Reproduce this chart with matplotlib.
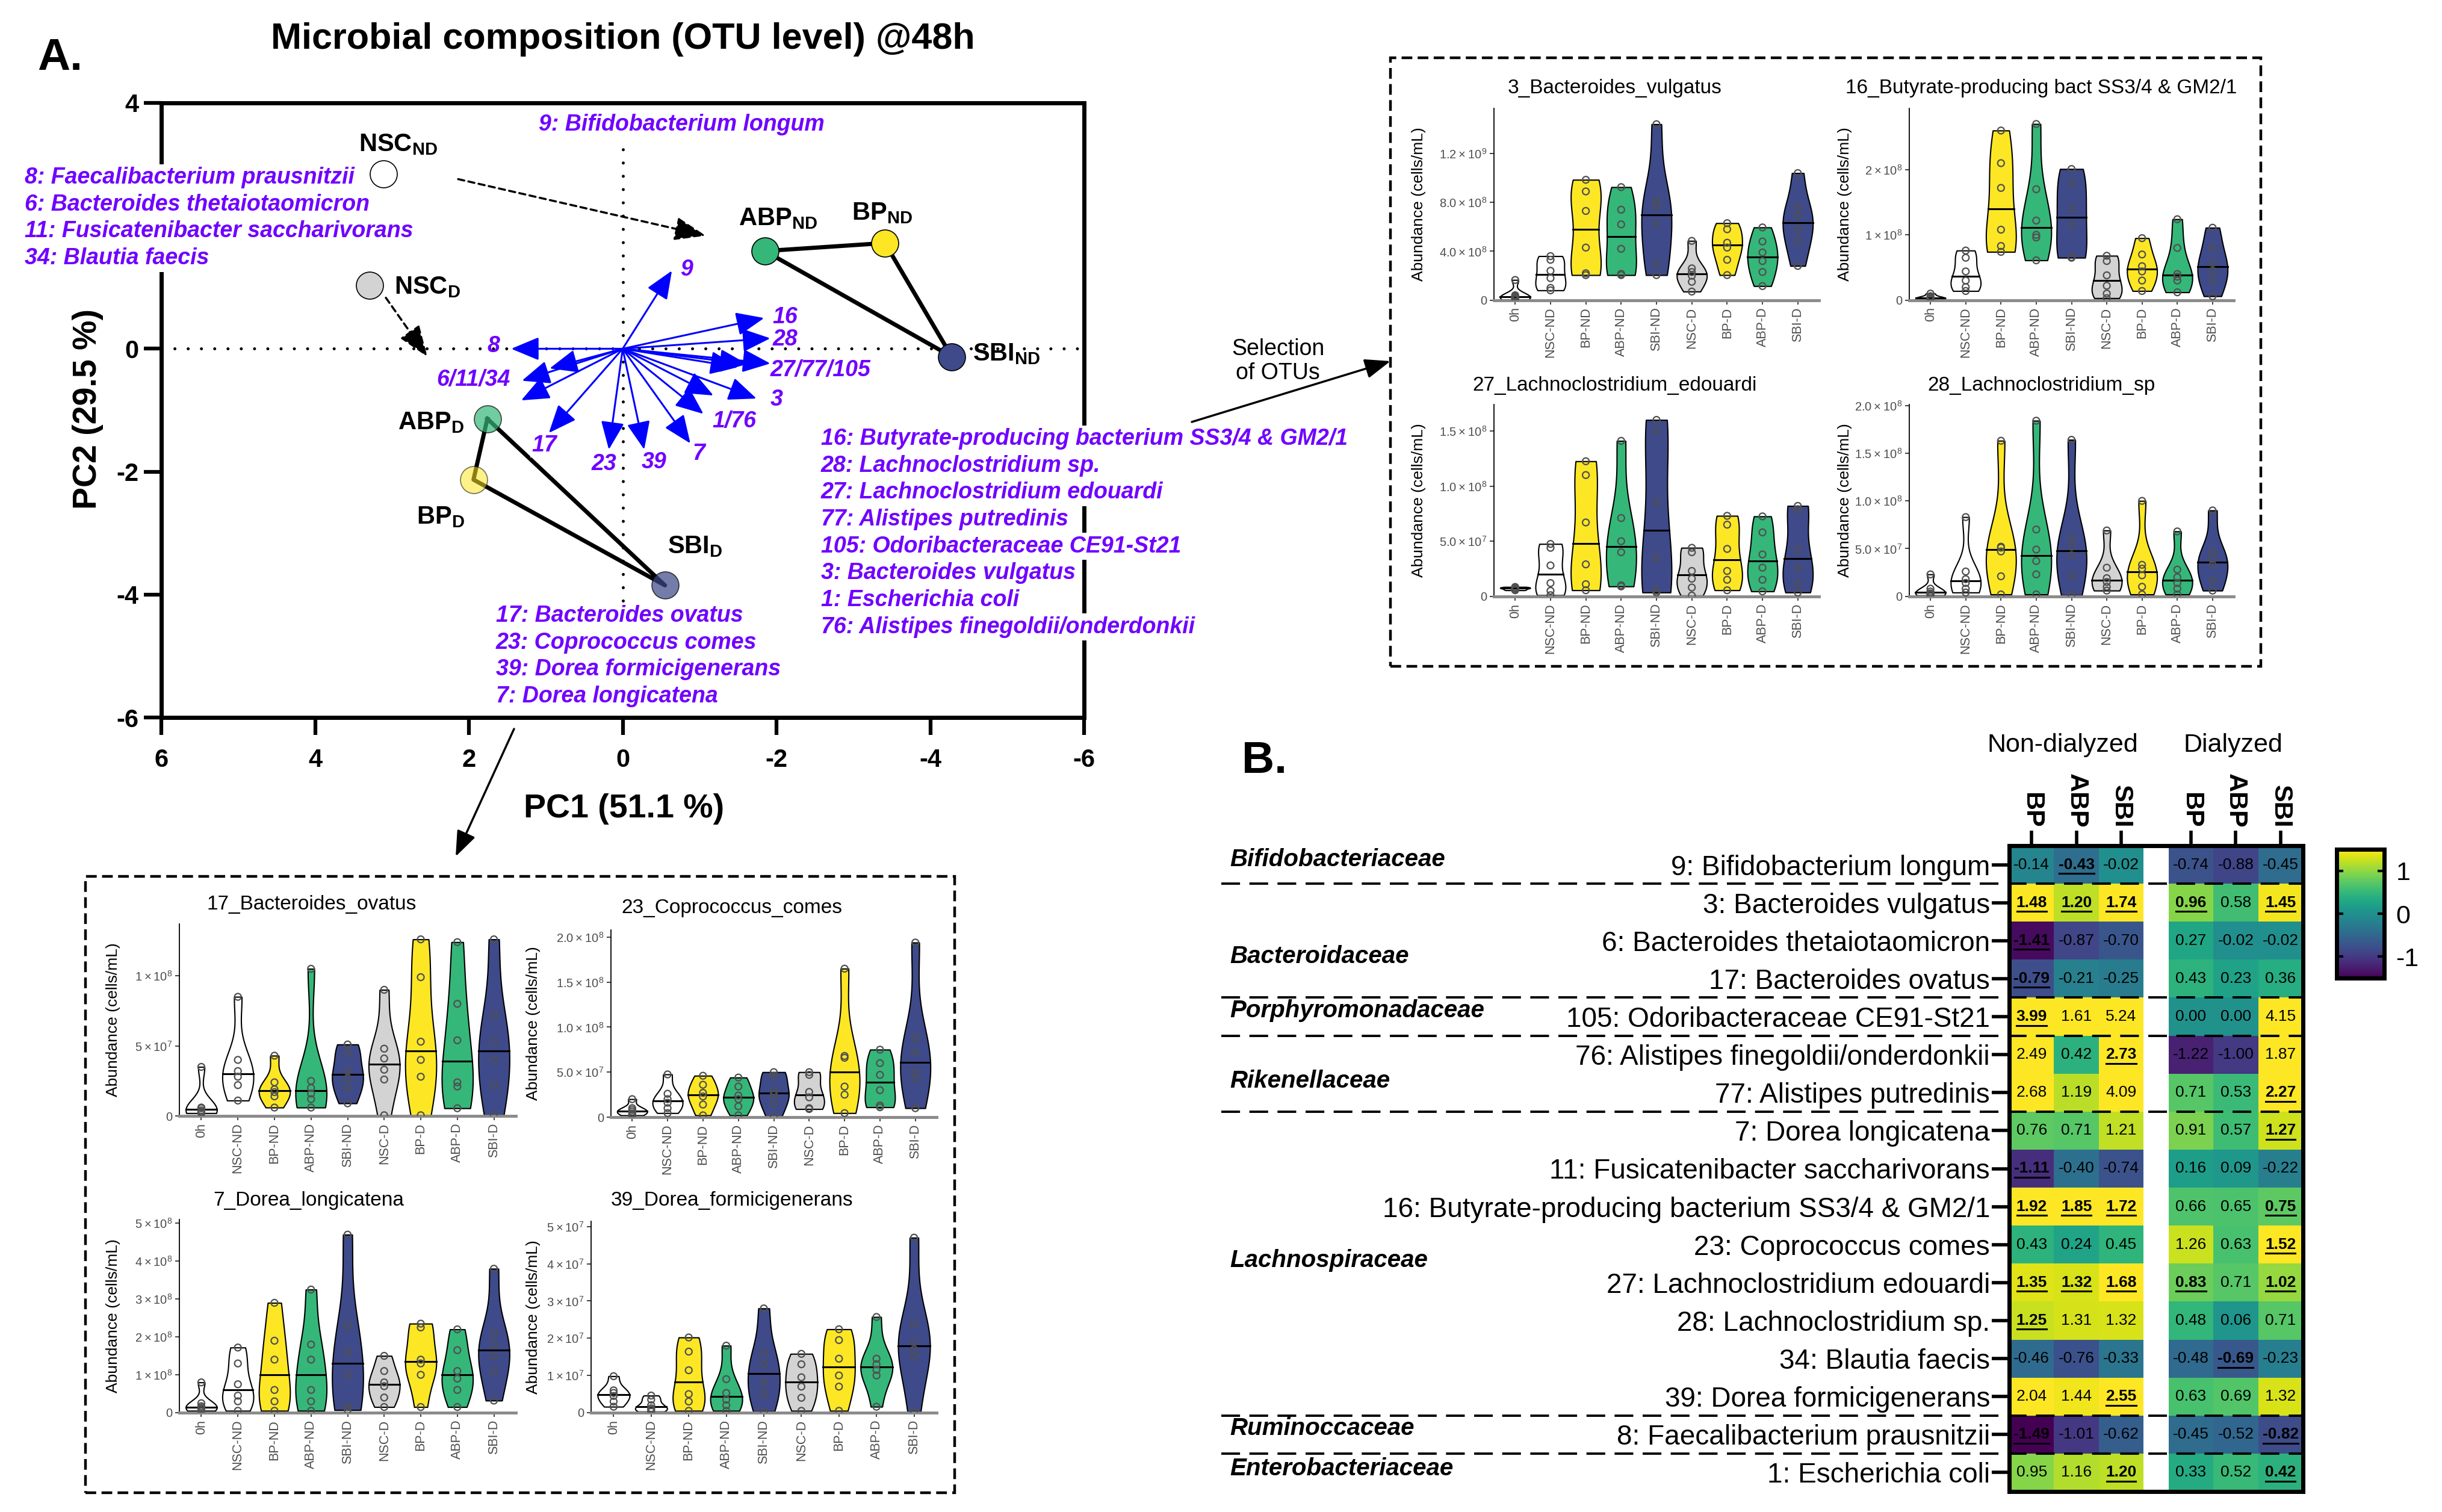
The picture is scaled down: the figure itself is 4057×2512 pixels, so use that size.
import numpy as np
import matplotlib
import matplotlib.pyplot as plt
from matplotlib.patches import FancyArrowPatch, Rectangle
from matplotlib.transforms import blended_transform_factory
from matplotlib.textpath import TextPath
from matplotlib.font_manager import FontProperties
from matplotlib import font_manager

W, H = 4057, 2512
plt.rcParams['font.family'] = ['Liberation Sans', 'DejaVu Sans']
plt.rcParams['mathtext.default'] = 'regular'
plt.rcParams['axes.unicode_minus'] = False

PURPLE = '#7000ff'
YEL, GRN, NAV = '#fde725', '#35b779', '#3e4a89'

# ---------------- data: PCA ----------------
samples = ['NSC$_{ND}$', 'ABP$_{ND}$', 'BP$_{ND}$', 'SBI$_{ND}$',
           'NSC$_{D}$', 'ABP$_{D}$', 'BP$_{D}$', 'SBI$_{D}$']
pc1 = [3.11, -1.85, -3.41, -4.28, 3.29, 1.76, 1.94, -0.55]
pc2 = [2.84, 1.59, 1.72, -0.13, 1.03, -1.14, -2.13, -3.85]
s_colors = ['white', GRN, YEL, NAV, '#d3d3d3', GRN, YEL, NAV]
s_alpha = [1, 1, 1, 1, 1, 0.7, 0.55, 0.72]
label_xy = [(3.43, 3.22), (-1.51, 2.01), (-2.98, 2.10), (-4.55, -0.19),
            (2.97, 0.89), (2.92, -1.31), (2.68, -2.85), (-0.58, -3.33)]

otu_ids = ['9', '16', '28', '27', '77', '105', '3', '1', '76', '7', '39', '23', '17', '6', '11', '34', '8']
load_x = [-0.64, -1.84, -1.92, -1.50, -1.62, -1.92, -1.74, -1.18, -1.05, -0.88, -0.28, 0.18, 0.96, 1.32, 1.31, 0.95, 1.45]
load_y = [1.27, 0.50, 0.17, -0.30, -0.25, -0.24, -0.81, -0.76, -1.06, -1.54, -1.64, -1.64, -1.37, -0.84, -0.52, -0.32, 0.0]
arrow_labels = ['9', '16', '28', '27/77/105', '3', '1/76', '7', '39', '23', '17', '6/11/34', '8']
arrow_label_xy = [(-0.83, 1.29), (-2.11, 0.51), (-2.11, 0.15), (-2.57, -0.35), (-2.0, -0.83),
                  (-1.45, -1.18), (-0.99, -1.71), (-0.41, -1.85), (0.24, -1.88), (1.02, -1.57),
                  (1.94, -0.51), (1.68, 0.04)]

top_list = ['9: Bifidobacterium longum']
left_list = ['8: Faecalibacterium prausnitzii', '6: Bacteroides thetaiotaomicron',
             '11: Fusicatenibacter saccharivorans', '34: Blautia faecis']
right_list = ['16: Butyrate-producing bacterium SS3/4 & GM2/1', '28: Lachnoclostridium sp.',
              '27: Lachnoclostridium edouardi', '77: Alistipes putredinis',
              '105: Odoribacteraceae CE91-St21', '3: Bacteroides vulgatus',
              '1: Escherichia coli', '76: Alistipes finegoldii/onderdonkii']
bottom_list = ['17: Bacteroides ovatus', '23: Coprococcus comes',
               '39: Dorea formicigenerans', '7: Dorea longicatena']

# ---------------- data: violins ----------------
groups = ['0h', 'NSC-ND', 'BP-ND', 'ABP-ND', 'SBI-ND', 'NSC-D', 'BP-D', 'ABP-D', 'SBI-D']
g_colors = ['white', 'white', YEL, GRN, NAV, '#d3d3d3', YEL, GRN, NAV]

b_vulgatus = [[0.05, 0.15, 0.25, 0.3, 0.4, 1.65], [0.8, 1.0, 1.8, 2.4, 3.3, 3.6],
              [2.05, 2.2, 4.3, 7.3, 8.9, 9.85], [2.05, 2.15, 4.2, 6.2, 7.4, 9.25],
              [2.05, 3.0, 6.3, 7.7, 8.1, 14.4], [0.7, 1.5, 2.0, 2.3, 2.6, 4.85],
              [2.05, 3.3, 4.3, 4.7, 5.8, 6.3], [1.15, 2.3, 3.2, 3.9, 4.8, 5.95],
              [2.8, 4.8, 5.8, 6.9, 7.6, 10.4]]  # x1e8
butyrate = [[0.01, 0.02, 0.03, 0.04, 0.06, 0.1], [0.14, 0.2, 0.3, 0.44, 0.65, 0.76],
            [0.74, 0.83, 1.08, 1.72, 2.1, 2.6], [0.61, 0.96, 1.0, 1.22, 1.7, 2.7],
            [0.65, 0.66, 1.14, 1.4, 1.8, 2.01], [0.03, 0.1, 0.22, 0.38, 0.6, 0.68],
            [0.14, 0.3, 0.44, 0.52, 0.7, 0.95], [0.12, 0.3, 0.36, 0.4, 0.8, 1.24],
            [0.06, 0.3, 0.45, 0.57, 0.8, 1.11]]  # x1e8
l_edouardi = [[0.55, 0.6, 0.7, 0.75, 0.8, 0.85], [0.1, 0.5, 1.2, 2.8, 4.4, 4.75],
              [0.55, 1.1, 2.9, 6.7, 11.0, 12.25], [0.9, 1.0, 4.0, 5.0, 7.1, 14.1],
              [0.35, 0.5, 3.5, 8.5, 15.0, 16.0], [0.07, 0.8, 1.6, 2.3, 4.0, 4.4],
              [0.55, 1.5, 2.3, 4.3, 6.5, 7.3], [0.45, 1.5, 2.6, 3.8, 5.8, 7.25],
              [0.35, 1.2, 2.6, 4.2, 7.9, 8.2]]  # x1e7
l_sp = [[0.1, 0.2, 0.3, 0.5, 0.8, 2.3], [0.4, 0.8, 1.4, 1.8, 2.6, 8.3],
        [0.2, 2.1, 4.7, 5.1, 5.2, 16.3], [0.2, 2.3, 3.7, 4.9, 7.0, 18.4],
        [0.1, 2.1, 4.3, 5.2, 6.1, 16.4], [0.6, 1.0, 1.5, 1.9, 3.0, 6.9],
        [0.2, 1.0, 2.2, 2.9, 3.3, 10.0], [0.2, 0.8, 1.4, 2.0, 2.8, 6.8],
        [0.6, 1.7, 3.3, 3.9, 4.6, 9.0]]  # x1e7
b_ovatus = [[0.2, 0.3, 0.4, 0.55, 0.6, 3.5], [1.1, 2.2, 2.8, 3.2, 4.0, 8.5],
            [0.6, 1.4, 1.7, 1.9, 2.4, 4.3], [0.6, 1.2, 1.6, 2.0, 2.5, 10.5],
            [0.9, 2.0, 2.7, 3.2, 4.5, 5.1], [0.05, 2.6, 3.3, 4.1, 4.8, 9.0],
            [0.05, 2.8, 4.0, 5.3, 9.9, 12.6], [0.55, 2.1, 2.4, 5.4, 8.0, 12.4],
            [0.05, 2.2, 4.0, 5.3, 7.2, 12.6]]  # x1e7
c_comes = [[0.2, 0.4, 0.6, 0.8, 1.0, 2.0], [0.45, 1.0, 1.6, 2.0, 2.6, 4.75],
           [0.2, 1.4, 2.3, 2.7, 3.6, 4.6], [0.2, 1.2, 2.0, 2.4, 3.4, 4.4],
           [0.1, 1.5, 2.5, 2.9, 4.6, 5.0], [0.9, 1.0, 2.2, 2.8, 4.7, 5.0],
           [0.45, 2.5, 3.4, 6.6, 6.8, 16.5], [1.1, 1.3, 3.0, 4.7, 6.0, 7.5],
           [1.0, 4.3, 5.0, 7.2, 8.8, 19.4]]  # x1e7
d_longicatena = [[0.05, 0.1, 0.13, 0.17, 0.25, 0.8], [0.05, 0.3, 0.45, 0.75, 1.3, 1.72],
                 [0.05, 0.3, 0.6, 1.4, 1.9, 2.9], [0.05, 0.3, 0.6, 1.4, 1.8, 3.25],
                 [0.07, 0.15, 1.0, 1.6, 2.3, 4.7], [0.15, 0.4, 0.7, 0.8, 1.1, 1.5],
                 [0.15, 1.0, 1.3, 1.4, 2.25, 2.35], [0.15, 0.6, 0.9, 1.1, 1.65, 2.2],
                 [0.32, 1.1, 1.5, 1.8, 2.1, 3.8]]  # x1e8
d_formici = [[0.16, 0.3, 0.45, 0.53, 0.6, 0.98], [0.03, 0.08, 0.12, 0.2, 0.35, 0.46],
             [0.05, 0.3, 0.5, 1.14, 1.64, 2.02], [0.05, 0.2, 0.35, 0.53, 0.9, 1.8],
             [0.03, 0.5, 0.8, 1.3, 1.6, 2.8], [0.05, 0.4, 0.7, 0.95, 1.3, 1.58],
             [0.05, 0.7, 1.0, 1.45, 1.95, 2.24], [0.16, 1.0, 1.15, 1.3, 1.45, 2.57],
             [0.03, 1.5, 1.7, 1.9, 2.4, 4.7]]  # x1e7

# ---------------- data: heatmap ----------------
rows = ['9: Bifidobacterium longum', '3: Bacteroides vulgatus', '6: Bacteroides thetaiotaomicron',
        '17: Bacteroides ovatus', '105: Odoribacteraceae CE91-St21',
        '76: Alistipes finegoldii/onderdonkii', '77: Alistipes putredinis', '7: Dorea longicatena',
        '11: Fusicatenibacter saccharivorans', '16: Butyrate-producing bacterium SS3/4 & GM2/1',
        '23: Coprococcus comes', '27: Lachnoclostridium edouardi', '28: Lachnoclostridium sp.',
        '34: Blautia faecis', '39: Dorea formicigenerans', '8: Faecalibacterium prausnitzii',
        '1: Escherichia coli']
non_dial = [[-0.14, -0.43, -0.02], [1.48, 1.20, 1.74], [-1.41, -0.87, -0.70], [-0.79, -0.21, -0.25],
            [3.99, 1.61, 5.24], [2.49, 0.42, 2.73], [2.68, 1.19, 4.09], [0.76, 0.71, 1.21],
            [-1.11, -0.40, -0.74], [1.92, 1.85, 1.72], [0.43, 0.24, 0.45], [1.35, 1.32, 1.68],
            [1.25, 1.31, 1.32], [-0.46, -0.76, -0.33], [2.04, 1.44, 2.55], [-1.49, -1.01, -0.62],
            [0.95, 1.16, 1.20]]
dial = [[-0.74, -0.88, -0.45], [0.96, 0.58, 1.45], [0.27, -0.02, -0.02], [0.43, 0.23, 0.36],
        [0.00, 0.00, 4.15], [-1.22, -1.00, 1.87], [0.71, 0.53, 2.27], [0.91, 0.57, 1.27],
        [0.16, 0.09, -0.22], [0.66, 0.65, 0.75], [1.26, 0.63, 1.52], [0.83, 0.71, 1.02],
        [0.48, 0.06, 0.71], [-0.48, -0.69, -0.23], [0.63, 0.69, 1.32], [-0.45, -0.52, -0.82],
        [0.33, 0.52, 0.42]]
sig_nd = [[0, 1, 0], [1, 1, 1], [1, 0, 0], [1, 0, 0], [1, 0, 0], [0, 0, 1], [0, 0, 0], [0, 0, 0],
          [1, 0, 0], [1, 1, 1], [0, 0, 0], [1, 1, 1], [1, 0, 0], [0, 0, 0], [0, 0, 1], [1, 0, 0],
          [0, 0, 1]]
sig_d = [[0, 0, 0], [1, 0, 1], [0, 0, 0], [0, 0, 0], [0, 0, 0], [0, 0, 0], [0, 0, 1], [0, 0, 1],
         [0, 0, 0], [0, 0, 1], [0, 0, 1], [1, 0, 1], [0, 0, 0], [0, 1, 0], [0, 0, 0], [0, 0, 1],
         [0, 0, 1]]
families = ['Bifidobacteriaceae', 'Bacteroidaceae', 'Porphyromonadaceae', 'Rikenellaceae',
            'Lachnospiraceae', 'Ruminoccaceae', 'Enterobacteriaceae']
family_y = [0.36, 2.92, 4.34, 6.2, 10.92, 15.34, 16.4]
family_breaks = [1, 4, 5, 7, 15, 16]
col_names = ['BP', 'ABP', 'SBI']


fig = plt.figure(figsize=(W / 100, H / 100), dpi=100)


def box(l, t, r, b):
    return [l / W, 1 - b / H, (r - l) / W, (b - t) / H]


def ftext(x, y, s, **kw):
    return fig.text(x / W, 1 - y / H, s, **kw)


def fig_arrow(p0, p1, **kw):
    a = FancyArrowPatch((p0[0] / W, 1 - p0[1] / H), (p1[0] / W, 1 - p1[1] / H),
                        transform=fig.transFigure, shrinkA=0, shrinkB=0, **kw)
    fig.add_artist(a)


# ================= Panel A: PCA biplot =================
ax = fig.add_axes(box(268, 171, 1801, 1192))
ax.set_xlim(6, -6)
ax.set_ylim(-6, 4)
ax.axhline(0, color='black', lw=3.6, ls=(0, (0.01, 4.4)), dash_capstyle='round', zorder=1)
ax.plot([0, 0], [-4.1, 3.45], color='black', lw=3.6, ls=(0, (0.01, 4.4)),
        dash_capstyle='round', zorder=1)

for tri in ([1, 2, 3, 1], [5, 6, 7, 5]):
    ax.plot([pc1[i] for i in tri], [pc2[i] for i in tri], color='black', lw=5, zorder=2)
for i in range(len(samples)):
    ax.scatter(pc1[i], pc2[i], s=1050, color=s_colors[i], alpha=s_alpha[i],
               edgecolors='black', linewidths=1.2, zorder=3)
    ax.text(label_xy[i][0], label_xy[i][1], samples[i], fontsize=30, fontweight='bold',
            ha='left', va='baseline', zorder=5)

for xx, yy in zip(load_x, load_y):
    ax.annotate('', xy=(xx, yy), xytext=(0, 0),
                arrowprops=dict(arrowstyle='-|>,head_length=1.2,head_width=0.5', color='#0000ff',
                                lw=2.2, shrinkA=0, shrinkB=0, mutation_scale=24), zorder=4)
for lab, (xx, yy) in zip(arrow_labels, arrow_label_xy):
    kw = dict(boxstyle='square,pad=0.05', fc='white', ec='none') if lab == '17' else None
    ax.text(xx, yy, lab, color=PURPLE, fontsize=27, fontweight='bold', style='italic',
            ha='center', va='center', zorder=5, bbox=kw)

for (x0, y0), (x1, y1) in [((2.14, 2.76), (-1.08, 1.84)), ((3.08, 0.83), (2.54, -0.13))]:
    ax.annotate('', xy=(x1, y1), xytext=(x0, y0),
                arrowprops=dict(arrowstyle='-|>,head_length=1.6,head_width=0.6', color='black',
                                lw=2.5, ls=(0, (3, 2)), shrinkA=0, shrinkB=0, mutation_scale=20))

for s in ax.spines.values():
    s.set_linewidth(5)
ax.set_xticks([6, 4, 2, 0, -2, -4, -6])
ax.set_yticks([4, 0, -2, -4, -6])
ax.tick_params(length=21, width=4.5, labelsize=30)
ax.tick_params(axis='x', pad=16)
ax.tick_params(axis='y', pad=6)
for t in ax.get_xticklabels() + ax.get_yticklabels():
    t.set_fontweight('bold')
ftext(1037, 1344, 'PC1 (51.1 %)', fontsize=40, fontweight='bold', ha='center', va='center')
ftext(146, 679, 'PC2 (29.5 %)', fontsize=40, fontweight='bold', ha='center', va='center',
      rotation=90)

wbox = dict(boxstyle='square,pad=0.12', fc='white', ec='none')
ptxt = dict(color=PURPLE, fontsize=27, fontweight='bold', style='italic', ha='left',
            va='center', bbox=wbox, zorder=6)
ftext(895, 207, top_list[0], **ptxt)
for k, s in enumerate(left_list):
    ftext(41, 295 + 44.7 * k, s, **ptxt)
for k, s in enumerate(right_list):
    ftext(1364, 729 + 44.7 * k, s, **ptxt)
for k, s in enumerate(bottom_list):
    ftext(824, 1023 + 44.7 * k, s, **ptxt)

ftext(1035, 66, 'Microbial composition (OTU level) @48h', fontsize=44, fontweight='bold',
      ha='center', va='center')
ftext(62, 96, 'A.', fontsize=54, fontweight='bold', ha='left', va='center')
ftext(2063, 1264, 'B.', fontsize=54, fontweight='bold', ha='left', va='center')
ftext(2123, 600, 'Selection\nof OTUs', fontsize=27, ha='center', va='center', linespacing=1.15)

fig_arrow((1980, 701), (2310, 600), arrowstyle='-|>,head_length=1.3,head_width=0.5',
          mutation_scale=20, lw=2.5, color='black')
fig_arrow((854, 1211), (757, 1423), arrowstyle='-|>,head_length=1.3,head_width=0.5',
          mutation_scale=20, lw=2.5, color='black')

# dashed boxes around the violin panels
for (l, t, r, b) in [(2310, 96, 3756, 1107), (142, 1456, 1586, 2480)]:
    fig.add_artist(Rectangle((l / W, 1 - b / H), (r - l) / W, (b - t) / H, fill=False,
                             transform=fig.transFigure, lw=3.2, ls=(0, (4, 2)), ec='black'))


# ================= violin panels =================
def sci(v, dec):
    if v == 0:
        return '0'
    e = int(np.floor(np.log10(v) + 1e-9))
    m = v / 10 ** e
    return rf'${m:.{dec}f}\times10^{{{e}}}$'


def violin_panel(rect, title, title_xy, ylab_x, vals, unit, ymax, ticks, dec):
    l, t, r, b = rect
    a = fig.add_axes(box(l, t, r, b))
    data = [np.array(v) * unit for v in vals]
    pos = np.arange(1, len(groups) + 1)
    parts = a.violinplot(data, pos, widths=0.85, showextrema=False, bw_method=0.6)
    for p, body, c, d in zip(pos, parts['bodies'], g_colors, data):
        body.set_facecolor(c)
        body.set_edgecolor('black')
        body.set_linewidth(1.5)
        body.set_alpha(1)
        body.set_zorder(2)
        v = body.get_paths()[0].vertices
        rs = v[v[:, 0] > p]
        o = np.argsort(rs[:, 1])
        med = np.median(d)
        half = np.interp(med, rs[o, 1], rs[o, 0]) - p
        a.plot([p - half, p + half], [med, med], color='black', lw=2.2, zorder=3)
        a.scatter(np.full(len(d), p), d, s=64, facecolors='none', edgecolors='#505050',
                  linewidths=1.6, zorder=4)
    a.set_xlim(0.4, 9.6)
    a.set_ylim(0, ymax)
    a.spines[['top', 'right']].set_visible(False)
    a.spines['bottom'].set_color('#8a8a8a')
    a.spines['bottom'].set_linewidth(3.5)
    a.spines['left'].set_linewidth(1.3)
    a.set_xticks(pos, groups, rotation=90, fontsize=15.5, color='#4d4d4d')
    a.set_yticks(ticks, [sci(tk, dec) for tk in ticks], fontsize=14.5, color='#4d4d4d')
    a.tick_params(length=5, width=1.3, color='#333333')
    ftext(title_xy[0], title_xy[1], title, fontsize=24, ha='center', va='center')
    ftext(ylab_x, (t + b) / 2, 'Abundance (cells/mL)', fontsize=19, rotation=90,
          ha='center', va='center')
    return a


violin_panel((2482, 180, 3022, 498.6), '3_Bacteroides_vulgatus', (2683, 147), 2357,
             b_vulgatus, 1e8, 1.57e9, [0, 4e8, 8e8, 1.2e9], 1)
violin_panel((3172, 180, 3711, 498.6), '16_Butyrate-producing bact SS3/4 & GM2/1', (3391, 147),
             3065, butyrate, 1e8, 2.94e8, [0, 1e8, 2e8], 0)
violin_panel((2482, 672, 3022, 990.7), '27_Lachnoclostridium_edouardi', (2683, 641), 2357,
             l_edouardi, 1e7, 1.74e8, [0, 5e7, 1e8, 1.5e8], 1)
violin_panel((3172, 672, 3711, 990.7), '28_Lachnoclostridium_sp', (3391, 641), 3065,
             l_sp, 1e7, 2.01e8, [0, 5e7, 1e8, 1.5e8, 2e8], 1)
violin_panel((298, 1535, 857, 1854), '17_Bacteroides_ovatus', (518, 1503), 188,
             b_ovatus, 1e7, 1.37e8, [0, 5e7, 1e8], 0)
violin_panel((1015, 1545, 1556, 1856), '23_Coprococcus_comes', (1216, 1508), 886,
             c_comes, 1e7, 2.08e8, [0, 5e7, 1e8, 1.5e8, 2e8], 1)
violin_panel((298, 2026, 857, 2347), '7_Dorea_longicatena', (513, 1995), 188,
             d_longicatena, 1e8, 5.1e8, [0, 1e8, 2e8, 3e8, 4e8, 5e8], 0)
violin_panel((982, 2029, 1556, 2347), '39_Dorea_formicigenerans', (1216, 1995), 886,
             d_formici, 1e7, 5.14e7, [0, 1e7, 2e7, 3e7, 4e7, 5e7], 0)

# ================= Panel B: heatmap =================
names = {f.name for f in font_manager.fontManager.ttflist}
cell_font = 'Liberation Sans Narrow' if 'Liberation Sans Narrow' in names else 'Liberation Sans'

HL, HT, HR, HB = 3338, 1405, 3826, 2478
hax = fig.add_axes(box(HL, HT, HR, HB))
gap = 0.56
nrow = len(rows)
ye = np.arange(nrow + 1)
x_nd = np.arange(4)
x_d = np.arange(4) + 3 + gap
nd = np.array(non_dial)
dd = np.array(dial)
hax.pcolormesh(x_nd, ye, nd, cmap='viridis', vmin=-1.5, vmax=1.5)
mesh = hax.pcolormesh(x_d, ye, dd, cmap='viridis', vmin=-1.5, vmax=1.5)
hax.set_xlim(0, 6 + gap)
hax.set_ylim(nrow, 0)
px_per_x = (HR - HL) / (6 + gap)

centers = list(x_nd[:3] + 0.5) + list(x_d[:3] + 0.5)
for vals, sig, xs in [(nd, sig_nd, x_nd[:3] + 0.5), (dd, sig_d, x_d[:3] + 0.5)]:
    for r in range(nrow):
        for c in range(3):
            s = f'{vals[r, c]:.2f}'
            if sig[r][c]:
                hax.text(xs[c], r + 0.5, s, ha='center', va='center', fontsize=19,
                         fontweight='bold', family=cell_font)
                fp = FontProperties(family=cell_font, weight='bold', size=19)
                wpx = TextPath((0, 0), s, prop=fp).get_extents().width * 100 / 72
                hw = wpx / px_per_x / 2
                hax.plot([xs[c] - hw, xs[c] + hw], [r + 0.73, r + 0.73], color='black', lw=2.2)
            else:
                hax.text(xs[c], r + 0.5, s, ha='center', va='center', fontsize=19,
                         family=cell_font)

hax.xaxis.tick_top()
hax.set_xticks(centers, col_names * 2, rotation=270, fontsize=31, fontweight='bold')
hax.set_yticks(np.arange(nrow) + 0.5, rows, fontsize=33)
hax.tick_params(axis='x', length=18, width=4, pad=3)
hax.tick_params(axis='y', length=21, width=4, pad=2)
for s in hax.spines.values():
    s.set_linewidth(5)

bt = blended_transform_factory(hax.transAxes, hax.transData)
x_left = (2043 - HL) / (HR - HL)
x_dash = (2029 - HL) / (HR - HL)
for fam, fy in zip(families, family_y):
    hax.text(x_left, fy, fam, transform=bt, fontsize=29, fontweight='bold', style='italic',
             ha='left', va='center')
for yb in family_breaks:
    hax.plot([x_dash, 1], [yb, yb], transform=bt, clip_on=False, color='black', lw=2.8,
             ls=(0, (8, 4)), zorder=5)

ftext(3427, 1238, 'Non-dialyzed', fontsize=31, ha='center', va='center')
ftext(3710, 1238, 'Dialyzed', fontsize=31, ha='center', va='center')

cax = fig.add_axes(box(3882, 1411, 3961, 1625))
cb = fig.colorbar(mesh, cax=cax, ticks=[-1, 0, 1])
cb.ax.set_yticklabels(['-1', '0', '1'])
cb.outline.set_linewidth(5)
cax.tick_params(direction='in', left=True, right=True, length=8, width=3, labelsize=31, pad=14)

fig.savefig('out.png', dpi=100)
